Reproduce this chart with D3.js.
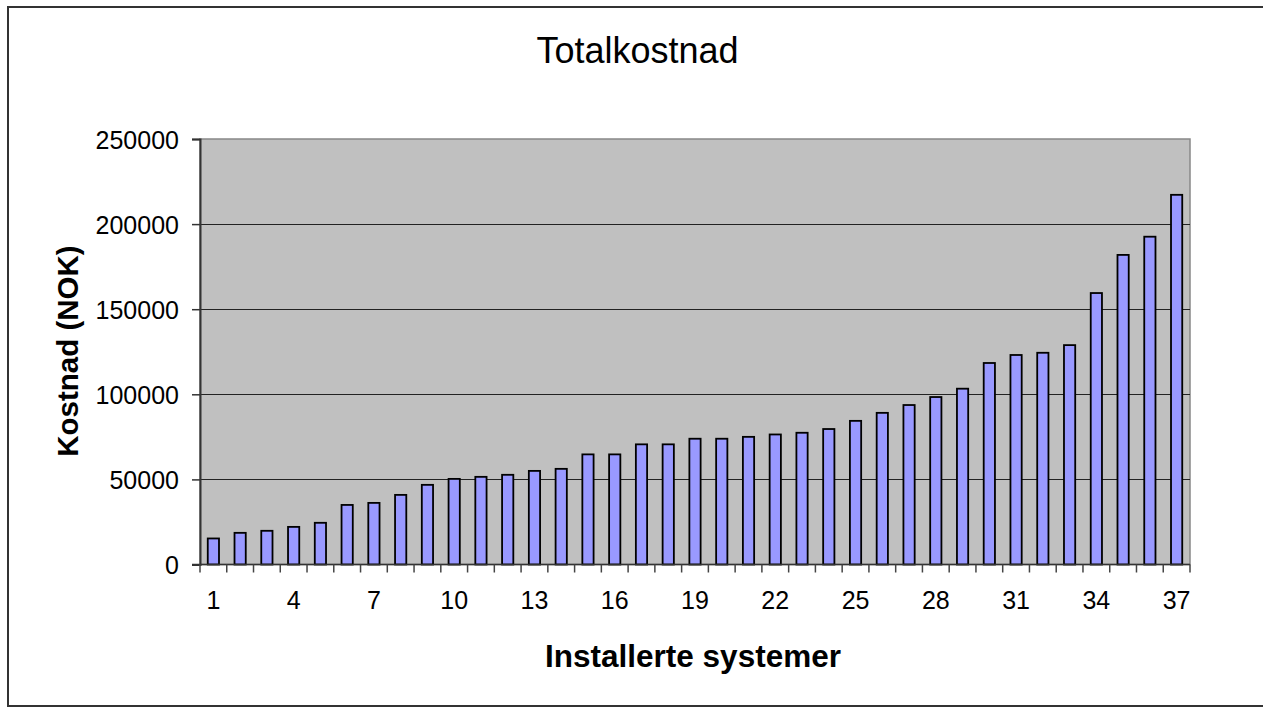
<!DOCTYPE html>
<html>
<head>
<meta charset="utf-8">
<script src="https://cdn.jsdelivr.net/npm/d3@7"></script>
<style>
  html, body { margin: 0; padding: 0; background: #fff; }
  svg { display: block; }
  text { font-family: Arial, "Liberation Sans", sans-serif; fill: #000; }
</style>
</head>
<body>
<svg id="chart" width="1263" height="707"></svg>
<script>
// ---- data ----
const title = "Totalkostnad";
const xTitle = "Installerte systemer";
const yTitle = "Kostnad (NOK)";
const categories = d3.range(1, 38);
const costs = [
  15300, 18600, 19800, 22100, 24500, 35000, 36200, 40900, 46800, 50300,
  51500, 52700, 55000, 56200, 64700, 64700, 70600, 70600, 73900, 73900,
  75000, 76400, 77400, 79600, 84400, 89100, 93700, 98400, 103300, 118400,
  123100, 124400, 128900, 159500, 181900, 192600, 217200
];
const yTicks = [0, 50000, 100000, 150000, 200000, 250000];
const xTickLabels = [1, 4, 7, 10, 13, 16, 19, 22, 25, 28, 31, 34, 37];

// ---- layout ----
const svg = d3.select("#chart");
const plot = { left: 200, right: 1190, top: 139, bottom: 564.5 };

const x = d3.scaleBand().domain(categories).range([plot.left, plot.right]).padding(0);
const y = d3.scaleLinear().domain([0, 250000]).range([plot.bottom, plot.top]);

// outer frame
svg.append("rect")
  .attr("x", 8).attr("y", 7).attr("width", 1275).attr("height", 699)
  .attr("fill", "#fff").attr("stroke", "#333").attr("stroke-width", 2);

// plot background
svg.append("rect")
  .attr("x", plot.left).attr("y", plot.top)
  .attr("width", plot.right - plot.left).attr("height", plot.bottom - plot.top)
  .attr("fill", "#c0c0c0").attr("stroke", "#888").attr("stroke-width", 1.5);

// gridlines
svg.append("g")
  .selectAll("line")
  .data(yTicks.filter(d => d > 0 && d < 250000))
  .join("line")
  .attr("x1", plot.left).attr("x2", plot.right)
  .attr("y1", d => Math.round(y(d)) + 0.5).attr("y2", d => Math.round(y(d)) + 0.5)
  .attr("stroke", "#222").attr("stroke-width", 1.2);

// bars
const bw = x.bandwidth() * 0.42;
svg.append("g")
  .selectAll("rect")
  .data(costs)
  .join("rect")
  .attr("x", (d, i) => x(categories[i]) + (x.bandwidth() - bw) / 2)
  .attr("y", d => y(d))
  .attr("width", bw)
  .attr("height", d => plot.bottom - y(d))
  .attr("fill", "#9999ff")
  .attr("stroke", "#000")
  .attr("stroke-width", 1.8);

// y axis
const yAxis = d3.axisLeft(y).tickValues(yTicks).tickSize(8).tickPadding(13).tickFormat(d3.format("d"));
const gy = svg.append("g").attr("transform", `translate(${plot.left},0)`).call(yAxis);
gy.select(".domain").attr("stroke", "#333").attr("stroke-width", 2);
gy.selectAll(".tick line").attr("stroke", "#333").attr("stroke-width", 1.5);
gy.selectAll(".tick text")
  .attr("font-size", 25).attr("font-family", "Arial, 'Liberation Sans', sans-serif")
  .attr("fill", "#000").attr("dy", "0.36em");

// x axis: labels
const xAxis = d3.axisBottom(x).tickValues(xTickLabels).tickSize(0).tickPadding(27);
const gx = svg.append("g").attr("transform", `translate(0,${plot.bottom})`).call(xAxis);
gx.select(".domain").remove();
gx.selectAll(".tick text")
  .attr("font-size", 25).attr("font-family", "Arial, 'Liberation Sans', sans-serif")
  .attr("fill", "#000").attr("dy", "0.71em");

// x axis line and boundary ticks
svg.append("line")
  .attr("x1", plot.left - 8).attr("x2", plot.right)
  .attr("y1", plot.bottom).attr("y2", plot.bottom)
  .attr("stroke", "#333").attr("stroke-width", 1.5);
const boundaries = categories.map(c => x(c)).concat([x(categories[categories.length - 1]) + x.bandwidth()]);
svg.append("g")
  .selectAll("line")
  .data(boundaries)
  .join("line")
  .attr("x1", d => d).attr("x2", d => d)
  .attr("y1", plot.bottom).attr("y2", plot.bottom + 8)
  .attr("stroke", "#444").attr("stroke-width", 1.5);

// titles
svg.append("text")
  .attr("x", 637.5).attr("y", 62.7)
  .attr("text-anchor", "middle")
  .attr("font-size", 36)
  .text(title);

svg.append("text")
  .attr("x", 693).attr("y", 666.5)
  .attr("text-anchor", "middle")
  .attr("font-size", 31.5).attr("font-weight", "bold")
  .text(xTitle);

svg.append("text")
  .attr("transform", "translate(78,351) rotate(-90)")
  .attr("text-anchor", "middle")
  .attr("font-size", 29.5).attr("font-weight", "bold")
  .text(yTitle);
</script>
</body>
</html>
